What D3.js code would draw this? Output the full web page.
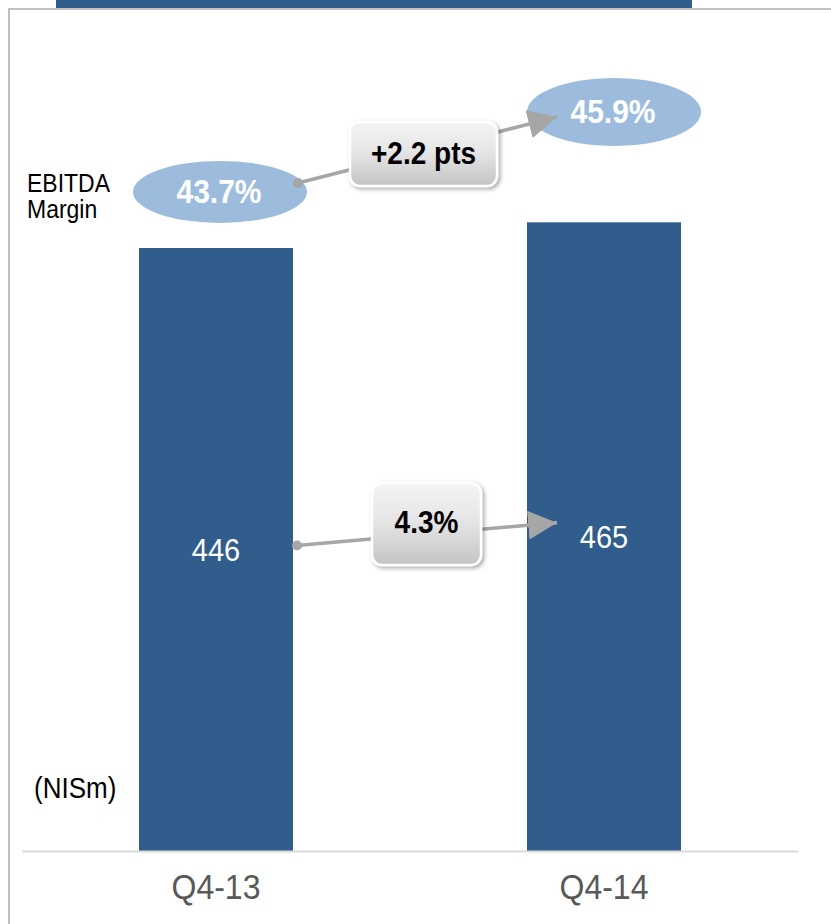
<!DOCTYPE html>
<html>
<head>
<meta charset="utf-8">
<script src="https://cdn.jsdelivr.net/npm/d3@7/dist/d3.min.js"></script>
<style>
  html, body { margin: 0; padding: 0; background: #ffffff; }
  svg { display: block; font-family: "Liberation Sans", Arial, sans-serif; }
</style>
</head>
<body>
<svg id="chart" width="831" height="924"></svg>
<script>
// Quarterly EBITDA (NIS millions) and EBITDA margin
const categories = ["Q4-13", "Q4-14"];
const ebitda = [446, 465];
const margins = [43.7, 45.9];
const ebitdaChange = "4.3%";
const marginChange = "+2.2 pts";

const W = 831, H = 924;
const svg = d3.select("#chart");
const defs = svg.append("defs");

// soft drop shadow for the change callouts
const shadow = defs.append("filter").attr("id", "shadow")
  .attr("x", "-20%").attr("y", "-20%").attr("width", "150%").attr("height", "160%");
shadow.append("feDropShadow").attr("dx", 2).attr("dy", 2)
  .attr("stdDeviation", 2.2).attr("flood-color", "#000").attr("flood-opacity", 0.35);

// grey gradient fill for the callouts
const grad = defs.append("linearGradient").attr("id", "boxGrad")
  .attr("x1", 0).attr("y1", 0).attr("x2", 0).attr("y2", 1);
grad.append("stop").attr("offset", "0%").attr("stop-color", "#f4f4f4");
grad.append("stop").attr("offset", "45%").attr("stop-color", "#e6e6e6");
grad.append("stop").attr("offset", "100%").attr("stop-color", "#c4c4c4");

// arrowhead
defs.append("marker").attr("id", "arrow")
  .attr("viewBox", "0 0 10 10").attr("refX", 10).attr("refY", 5)
  .attr("markerWidth", 8).attr("markerHeight", 8)
  .attr("markerUnits", "strokeWidth").attr("orient", "auto")
  .append("path").attr("d", "M0,0 L10,5 L0,10 Z").attr("fill", "#a6a6a6");

// slide frame
svg.append("rect").attr("x", 56).attr("y", 0).attr("width", 636).attr("height", 8).attr("fill", "#305d8c");
svg.append("line").attr("x1", 8).attr("x2", W).attr("y1", 9).attr("y2", 9)
  .attr("stroke", "#c0c0c0").attr("stroke-width", 2);
svg.append("line").attr("x1", 9).attr("x2", 9).attr("y1", 8).attr("y2", H)
  .attr("stroke", "#c0c0c0").attr("stroke-width", 2);

// scales
const x = d3.scaleBand().domain(categories).range([22, 798])
  .paddingInner(0.603).paddingOuter(0.3015);
const y = d3.scaleLinear().domain([0, 500]).range([851, 175]);
const my = d3.scaleLinear().domain([40, 50]).range([326.5, -37.1]);

// plain text with a slightly tall glyph shape
const STRETCH = 1.1;
function label(sel, px, py, size, txt) {
  return sel.append("text")
    .attr("transform", `translate(${px},${py}) scale(1,${STRETCH})`)
    .attr("font-size", size).text(txt);
}

// bars
svg.selectAll("rect.bar").data(categories).join("rect").attr("class", "bar")
  .attr("x", d => x(d)).attr("width", x.bandwidth())
  .attr("y", (d, i) => y(ebitda[i])).attr("height", (d, i) => y(0) - y(ebitda[i]))
  .attr("fill", "#305d8c");

// baseline axis
const axis = svg.append("g").attr("transform", `translate(0,${y(0)})`)
  .call(d3.axisBottom(x).tickSize(0).tickPadding(0));
axis.select(".domain").attr("stroke", "#d9d9d9").attr("stroke-width", 2);
axis.selectAll(".tick text").attr("font-size", 32).attr("fill", "#595959")
  .attr("font-family", "Liberation Sans, Arial, sans-serif")
  .attr("y", 0).attr("dy", 0)
  .attr("transform", `translate(0,48) scale(1,${STRETCH})`);

// value labels inside bars
const mid = i => (y(ebitda[i]) + y(0)) / 2;
categories.forEach((d, i) => {
  label(svg, x(d) + x.bandwidth() / 2, mid(i) + 11, 29, ebitda[i])
    .attr("text-anchor", "middle").attr("fill", "#ffffff");
});

// margin ellipses
const cx = i => x(categories[i]) + x.bandwidth() / 2 + (i === 0 ? 4 : 10);
svg.selectAll("ellipse.m").data(categories).join("ellipse").attr("class", "m")
  .attr("cx", (d, i) => cx(i)).attr("cy", (d, i) => my(margins[i]))
  .attr("rx", 87).attr("ry", (d, i) => i === 0 ? 31 : 34).attr("fill", "#9dbcdd");
categories.forEach((d, i) => {
  label(svg, cx(i) - 1, my(margins[i]) + 11, 30, d3.format(".1f")(margins[i]) + "%")
    .attr("text-anchor", "middle").attr("font-weight", "bold").attr("fill", "#ffffff");
});

// side labels
label(svg, 27, 192, 23, "EBITDA").attr("fill", "#000");
label(svg, 27, 218, 23, "Margin").attr("fill", "#000");
label(svg, 34, 798, 26, "(NISm)").attr("fill", "#000");

// change arrows with callout boxes
function changeArrow(p0, p1, txt, box) {
  svg.append("line").attr("x1", p0[0]).attr("y1", p0[1]).attr("x2", p1[0]).attr("y2", p1[1])
    .attr("stroke", "#a6a6a6").attr("stroke-width", 3.6).attr("marker-end", "url(#arrow)");
  svg.append("circle").attr("cx", p0[0]).attr("cy", p0[1]).attr("r", 5).attr("fill", "#a6a6a6");
  const bx = (p0[0] + p1[0]) / 2 + box.dx, by = (p0[1] + p1[1]) / 2 + box.dy;
  svg.append("rect").attr("x", bx - box.w / 2).attr("y", by - box.h / 2)
    .attr("width", box.w).attr("height", box.h).attr("rx", 10)
    .attr("fill", "url(#boxGrad)").attr("stroke", "#ffffff").attr("stroke-width", 2.5)
    .attr("filter", "url(#shadow)");
  label(svg, bx, by + box.ty + 10, 28, txt)
    .attr("text-anchor", "middle").attr("font-weight", "bold").attr("fill", "#000");
}

const b0 = x(categories[0]) + x.bandwidth(), b1 = x(categories[1]);
changeArrow([b0 + 4, mid(0) - 4], [b1 + 30, mid(1) - 14], ebitdaChange,
  { w: 109, h: 82, dx: -0.5, dy: -10, ty: -1 });
changeArrow([cx(0) + 78, my(margins[0]) - 9], [cx(1) - 57, my(margins[1]) + 5], marginChange,
  { w: 147, h: 64, dx: -4, dy: 4, ty: 0 });
</script>
</body>
</html>
